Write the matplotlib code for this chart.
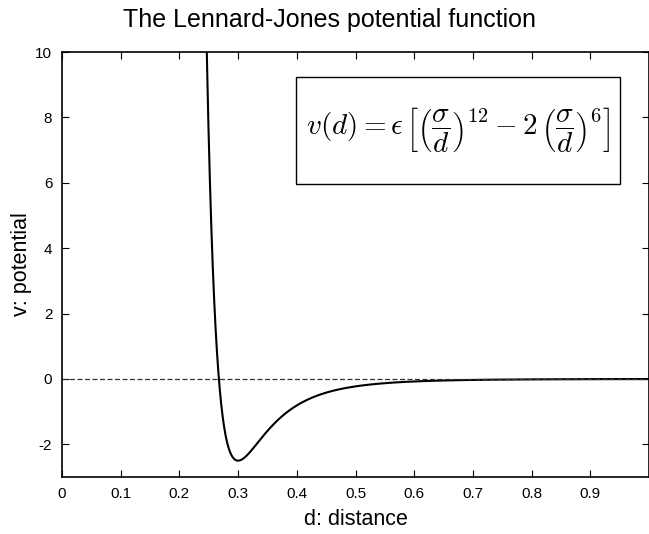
import numpy as np
import matplotlib
matplotlib.use("Agg")
import matplotlib.pyplot as plt
from matplotlib.patches import Rectangle

# Lennard-Jones parameters (well depth and minimum position)
epsilon = 2.5
sigma = 0.3
d_range = (0.2, 1.0)

x_ticks = [0, 0.1, 0.2, 0.3, 0.4, 0.5, 0.6, 0.7, 0.8, 0.9]
x_tick_labels = ["0", "0.1", "0.2", "0.3", "0.4", "0.5", "0.6", "0.7", "0.8", "0.9"]
y_ticks = [-2, 0, 2, 4, 6, 8, 10]
y_tick_labels = ["-2", "0", "2", "4", "6", "8", "10"]

plt.rcParams["font.family"] = ["Liberation Sans", "DejaVu Sans"]
plt.rcParams["mathtext.fontset"] = "cm"

d = np.linspace(d_range[0], d_range[1], 2000)
v = epsilon * ((sigma / d) ** 12 - 2 * (sigma / d) ** 6)

fig = plt.figure(figsize=(6.49, 5.34), dpi=100)
ax = fig.add_axes([62 / 649, (534 - 477) / 534, 587 / 649, 425 / 534])

ax.plot(d, v, color="black", lw=1.5)
ax.axhline(0, color="#333333", lw=0.9, dashes=(4, 2))

ax.set_xlim(0, 1)
ax.set_ylim(-3, 10)
ax.set_xticks(x_ticks)
ax.set_xticklabels(x_tick_labels)
ax.set_yticks(y_ticks)
ax.set_yticklabels(y_tick_labels)
ax.tick_params(direction="in", length=5, width=0.8, top=True, right=True,
               labelsize=11, pad=7)
for s in ax.spines.values():
    s.set_linewidth(1.2)

ax.set_xlabel("d: distance", fontsize=15.5, labelpad=6)
ax.set_ylabel("v: potential", fontsize=15.5, labelpad=2)
fig.text(329 / 649, 1 - 20 / 534, "The Lennard-Jones potential function",
         ha="center", va="center", fontsize=18)

# formula box (drawn as its own frame so it keeps the reference proportions)
ax.add_patch(Rectangle((0.399, 0.689), 0.552, 0.252, transform=ax.transAxes,
                       fc="white", ec="black", lw=1, zorder=4))
ax.text(0.675, 0.816,
        r"$v(d) = \epsilon\,\left[\left(\dfrac{\sigma}{d}\right)^{12} - 2\,\left(\dfrac{\sigma}{d}\right)^{6}\right]$",
        transform=ax.transAxes, ha="center", va="center", fontsize=21, zorder=5)

fig.savefig("out.png", dpi=100)
